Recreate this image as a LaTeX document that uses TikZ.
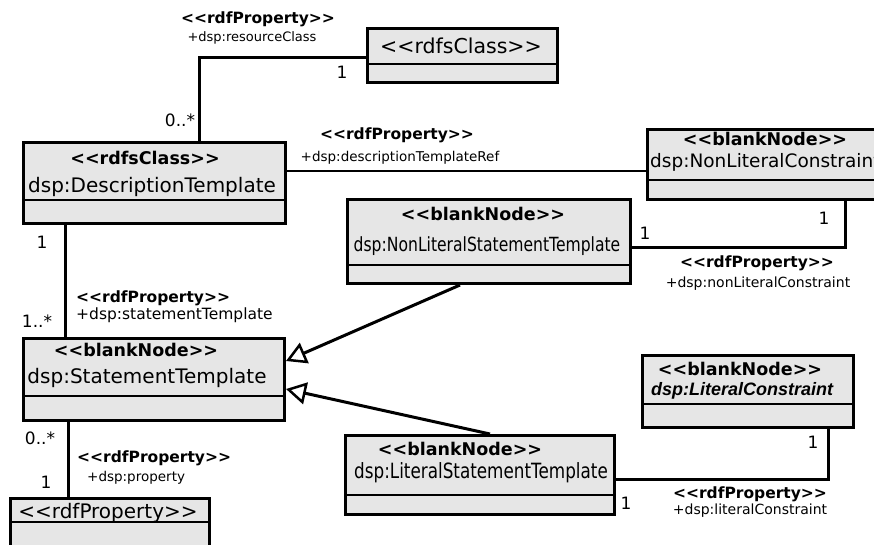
\documentclass[tikz,border=0pt]{standalone}
\usepackage{fontspec}
\setmainfont{DejaVu Sans}[Ligatures=TeXOff]
\newfontfamily\narrowfont{DejaVu Sans}[FakeStretch=0.8,Ligatures=TeXOff]
\newfontfamily\arialfont{Liberation Sans}[Ligatures=TeXOff]
\usepackage{tikz}
\usepackage{xcolor}
\usetikzlibrary{calc,arrows.meta}

\definecolor{boxgray}{HTML}{E6E6E6}
\newcommand{\fs}[1]{\fontsize{#1}{#1}\selectfont}

\begin{document}
\begin{tikzpicture}[x=1pt,y=-1pt]
    \tikzstyle{umlbox}=[draw,fill=boxgray,line width=3pt,rectangle,anchor=north west,inner sep=0pt]
    \tikzstyle{txt}=[inner sep=0pt,anchor=base]
    \tikzstyle{stereo}=[txt,font=\fs{17.5}\bfseries]
    \tikzstyle{prop}=[txt,font=\fs{15.5}\bfseries]
    \tikzstyle{role}=[txt,font=\fs{14}]
    \tikzstyle{mult}=[txt,font=\fs{17}]
    \tikzstyle{assoc}=[line width=3pt]
    \tikzstyle{gen}=[line width=3pt,-{Triangle[open,length=20pt,width=22pt,line width=2.5pt]}]

    \useasboundingbox (0,0) rectangle (874,544);
    \fill[white] (0,0) rectangle (874,544);

    % Class boxes
    \node[umlbox,minimum width=190pt,minimum height=54pt] (RC) at (366,27) {};
    \node[umlbox,minimum width=262pt,minimum height=81pt] (DT) at (22,141) {};
    \node[umlbox,minimum width=246pt,minimum height=70pt] (NLC) at (646,128) {};
    \node[umlbox,minimum width=283pt,minimum height=84pt] (NLST) at (346,198) {};
    \node[umlbox,minimum width=261pt,minimum height=82pt] (ST) at (22,337) {};
    \node[umlbox,minimum width=211pt,minimum height=72pt] (LC) at (641,354) {};
    \node[umlbox,minimum width=269pt,minimum height=79pt] (LST) at (344,434) {};
    \node[umlbox,minimum width=199pt,minimum height=60pt] (RP) at (9,497) {};

    % Compartment lines
    \draw[line width=2.5pt] (RC.west |- 0,64) -- (RC.east |- 0,64);
    \draw[line width=2.5pt] (DT.west |- 0,200) -- (DT.east |- 0,200);
    \draw[line width=2.5pt] (NLC.west |- 0,180) -- (NLC.east |- 0,180);
    \draw[line width=2.5pt] (NLST.west |- 0,265) -- (NLST.east |- 0,265);
    \draw[line width=2.5pt] (ST.west |- 0,396) -- (ST.east |- 0,396);
    \draw[line width=2.5pt] (LC.west |- 0,404) -- (LC.east |- 0,404);
    \draw[line width=2.5pt] (LST.west |- 0,495) -- (LST.east |- 0,495);
    \draw[line width=2.5pt] (RP.west |- 0,522) -- (RP.east |- 0,522);

    % Box titles
    \node[txt,font=\fs{20.5}] (rcName) at (461,53) {<<rdfsClass>>};
    \node[stereo] (dtStereo) at (145,164) {<<rdfsClass>>};
    \node[txt,font=\fs{20}] (dtName) at (152,192) {dsp:DescriptionTemplate};
    \node[stereo] (nlcStereo) at (765,145) {<<blankNode>>};
    \node[txt,font=\fs{18.5},anchor=base west] (nlcName) at (650,167) {dsp:NonLiteralConstraint};
    \node[stereo] (nlstStereo) at (483,220) {<<blankNode>>};
    \node[txt,font=\narrowfont\fs{19.5}] (nlstName) at (487,251) {dsp:NonLiteralStatementTemplate};
    \node[stereo] (stStereo) at (136,356) {<<blankNode>>};
    \node[txt,font=\fs{20}] (stName) at (147,383) {dsp:StatementTemplate};
    \node[stereo] (lcStereo) at (740,375) {<<blankNode>>};
    \node[txt,font=\arialfont\fs{18}\bfseries\itshape] (lcName) at (742,395) {dsp:LiteralConstraint};
    \node[stereo] (lstStereo) at (460,455) {<<blankNode>>};
    \node[txt,font=\narrowfont\fs{21}] (lstName) at (481,478) {dsp:LiteralStatementTemplate};
    \node[txt,font=\fs{20}] (rpName) at (108,518) {<<rdfProperty>>};

    % Bend points
    \coordinate (rcBend) at (199,57);
    \coordinate (nlcBend) at (845,247);
    \coordinate (lcBend) at (828,479);
    \coordinate (tipA) at ($(ST.north east)+(0,24)$);
    \coordinate (tipB) at ($(ST.north east)+(0,52)$);

    % Associations
    \draw[assoc] (RC.west |- rcBend) -- (rcBend) -- (DT.north -| rcBend);
    \draw[line width=2pt] (DT.east |- 0,171) -- (NLC.west |- 0,171);
    \draw[assoc] (NLC.south -| nlcBend) -- (nlcBend) -- (NLST.east |- nlcBend);
    \draw[assoc] ($(DT.south west)+(43,0)$) -- ($(ST.north west)+(43,0)$);
    \draw[assoc] ($(ST.south west)+(46,0)$) -- ($(RP.north west)+(59,0)$);
    \draw[assoc] (LST.east |- lcBend) -- (lcBend) -- (LC.south -| lcBend);

    % Generalizations
    \draw[gen] ($(NLST.south west)+(114,0)$) -- (tipA);
    \draw[gen] ($(LST.north west)+(146,0)$) -- (tipB);

    % Association labels
    \node[prop] (rcProp) at (258,23) {<<rdfProperty>>};
    \node[role,font=\fs{13}] (rcRole) at (252,41) {+dsp:resourceClass};
    \node[mult] (rcOne) at (342,78) {1};
    \node[mult] (rcMany) at (180,126) {0..*};

    \node[prop] (dtrProp) at (397,139) {<<rdfProperty>>};
    \node[role,font=\fs{13.5}] (dtrRole) at (400,161) {+dsp:descriptionTemplateRef};

    \node[prop] (nlcProp) at (757,267) {<<rdfProperty>>};
    \node[role] (nlcRole) at (758,287) {+dsp:nonLiteralConstraint};
    \node[mult] (nlcOneA) at (824,224) {1};
    \node[mult] (nlcOneB) at (645,239) {1};

    \node[prop,anchor=base west] (stProp) at (76,302) {<<rdfProperty>>};
    \node[role,font=\fs{15.5},anchor=base west] (stRole) at (76,319) {+dsp:statementTemplate};
    \node[mult] (stOne) at (42,248) {1};
    \node[mult] (stMany) at (37,327) {1..*};

    \node[prop,anchor=base west] (rpProp) at (77,462) {<<rdfProperty>>};
    \node[role,font=\fs{13.5},anchor=base west] (rpRole) at (87,481) {+dsp:property};
    \node[mult] (rpMany) at (40,444) {0..*};
    \node[mult] (rpOne) at (46,488) {1};

    \node[prop] (lcProp) at (750,498) {<<rdfProperty>>};
    \node[role] (lcRole) at (750,514) {+dsp:literalConstraint};
    \node[mult] (lcOneA) at (813,448) {1};
    \node[mult] (lcOneB) at (626,509) {1};
\end{tikzpicture}
\end{document}
